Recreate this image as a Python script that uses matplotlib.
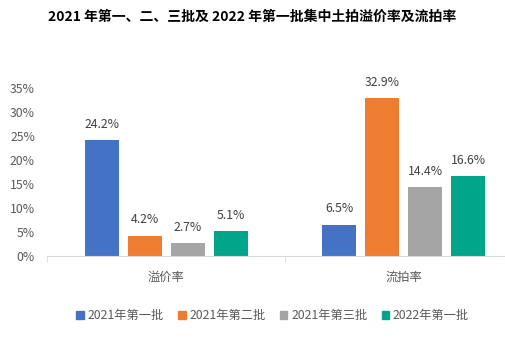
import numpy as np
import matplotlib
matplotlib.use("Agg")
import matplotlib.pyplot as plt
from matplotlib.patches import Patch

plt.rcParams['font.family'] = ['Noto Sans CJK SC', 'DejaVu Sans']

title = "2021 年第一、二、三批及 2022 年第一批集中土拍溢价率及流拍率"
categories = ["溢价率", "流拍率"]
series_names = ["2021年第一批", "2021年第二批", "2021年第三批", "2022年第一批"]
batch_2021_1 = [24.2, 6.5]
batch_2021_2 = [4.2, 32.9]
batch_2021_3 = [2.7, 14.4]
batch_2022_1 = [5.1, 16.6]
colors = ["#4472C4", "#ED7D31", "#A5A5A5", "#00A58A"]
yticks = [0, 5, 10, 15, 20, 25, 30, 35]

fig = plt.figure(figsize=(5.05, 3.39), dpi=100, facecolor='w')
ax = fig.add_axes([0.094, 0.246, 0.941, 0.494])

x = np.arange(len(categories))
width = 0.143
step = 0.181
series = [batch_2021_1, batch_2021_2, batch_2021_3, batch_2022_1]
for i, vals in enumerate(series):
    off = (i - 1.5) * step
    bars = ax.bar(x + off, vals, width=width, color=colors[i], label=series_names[i])
    for b, v in zip(bars, vals):
        ax.annotate("%.1f%%" % v, (b.get_x() + b.get_width() / 2, v),
                    xytext=(0, 6.5), textcoords='offset points',
                    ha='center', va='bottom', fontsize=8.8, color='#404040')

ax.set_xlim(-0.5, 1.5)
ax.set_ylim(0, 35)
ax.set_yticks(yticks)
ax.set_yticklabels(["%d%%" % t for t in yticks])
ax.set_xticks(x)
ax.set_xticklabels(categories)
ax.set_xticks([-0.5, 0.5, 1.5], minor=True)
ax.tick_params(axis='x', which='major', length=0, pad=11, labelsize=8.8, labelcolor='#595959')
ax.tick_params(axis='x', which='minor', length=4, color='#D9D9D9')
ax.tick_params(axis='y', length=0, labelsize=8.8, labelcolor='#595959', pad=9)
for s in ['top', 'right', 'left']:
    ax.spines[s].set_visible(False)
ax.spines['bottom'].set_color('#D9D9D9')

fig.text(0.5, 0.95, title, ha='center', va='center', fontsize=10, fontweight='bold', color='#000000')

handles = [Patch(color=c) for c in colors]
fig.legend(handles, series_names, loc='center', bbox_to_anchor=(0.54, 0.068), ncol=4,
           frameon=False, fontsize=8.8, handlelength=0.6, handleheight=0.6,
           handletextpad=0.3, columnspacing=1.2, labelcolor='#595959')

fig.savefig("out.png", dpi=100)
